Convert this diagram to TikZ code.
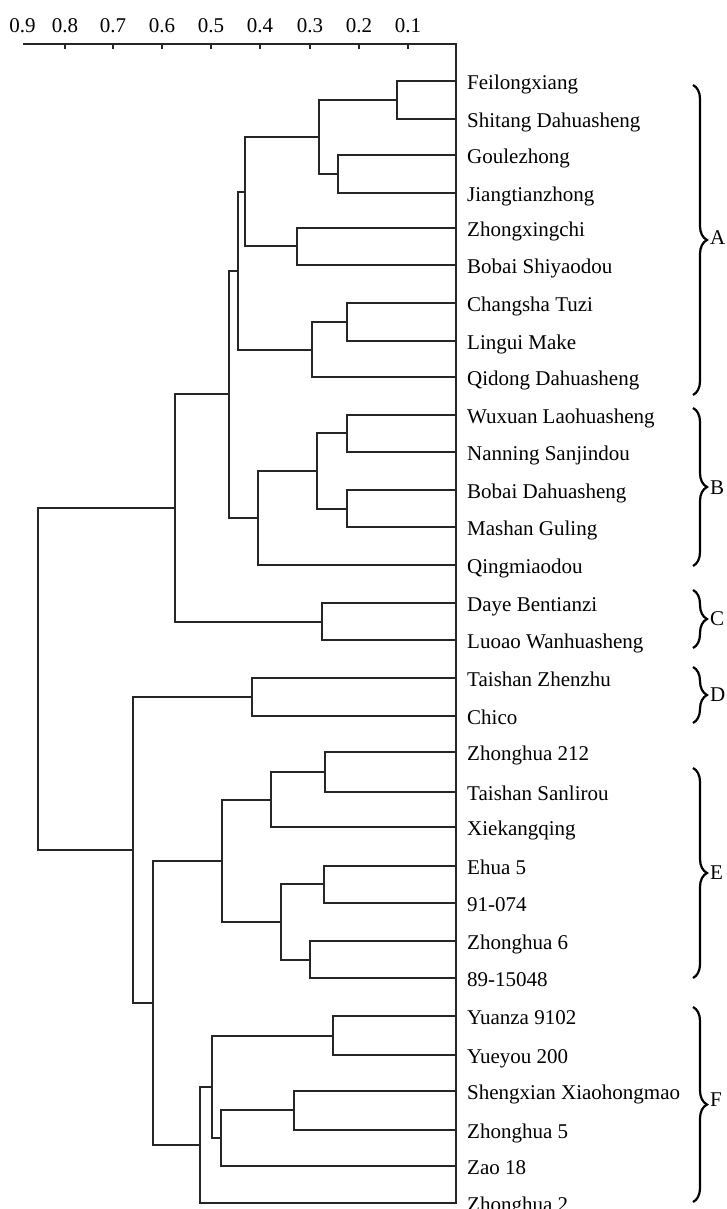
\documentclass[tikz,border=0pt]{standalone}
\usepackage{fontspec}
\setmainfont{Liberation Serif}
\usetikzlibrary{decorations.pathreplacing}
\newcommand\dmerge[3]{\draw[dline] (#2) -- (#2 -| #1) -- (#3 -| #1) -- (#3);}
\begin{document}
\begin{tikzpicture}[x=1pt,y=-1pt,
  dline/.style={line width=2pt,line join=miter,color=black!85},
  lbl/.style={font=\fontsize{21}{25}\selectfont,inner sep=0pt,anchor=base west},
  axlbl/.style={font=\fontsize{21}{25}\selectfont,inner sep=0pt,anchor=base},
  grp/.style={font=\fontsize{21}{25}\selectfont,inner sep=0pt,anchor=west},
  gbrace/.style={decorate,decoration={brace,amplitude=14pt},line width=2.2pt}]
\useasboundingbox (0,0) rectangle (727,1209);
% axis
\coordinate (axL) at (23,44);
\coordinate (axR) at (456,44);
\coordinate (axB) at (456,1204);
\draw[dline] (axL) -- (axR) -- (axB);
\foreach \k/\v/\x in {8/0.8/65,7/0.7/113,6/0.6/162,5/0.5/211,4/0.4/260,3/0.3/310,2/0.2/359,1/0.1/408}{
  \coordinate (tk\k) at (\x,44);
  \draw[dline] (tk\k) -- ++(0,5);
  \node[axlbl] (ax\k) at (\x,32.3) {\v};
}
\node[axlbl] (ax9) at (22.5,32.3) {0.9};
% leaves
\foreach \i/\y/\t in {0/81/Feilongxiang,1/119/Shitang Dahuasheng,2/155/Goulezhong,
 3/193/Jiangtianzhong,4/228/Zhongxingchi,5/265/Bobai Shiyaodou,6/303/Changsha Tuzi,
 7/341/Lingui Make,8/377/Qidong Dahuasheng,9/415/Wuxuan Laohuasheng,
 10/452/Nanning Sanjindou,11/490/Bobai Dahuasheng,12/527/Mashan Guling,
 13/565/Qingmiaodou,14/603/Daye Bentianzi,15/640/Luoao Wanhuasheng,
 16/678/Taishan Zhenzhu,17/716/Chico,18/752/Zhonghua 212,19/792/Taishan Sanlirou,
 20/827/Xiekangqing,21/866/Ehua 5,22/903/91-074,23/941/Zhonghua 6,
 24/978/89-15048,25/1016/Yuanza 9102,26/1055/Yueyou 200,27/1091/Shengxian Xiaohongmao,
 28/1130/Zhonghua 5,29/1166/Zao 18,30/1203/Zhonghua 2}{
  \coordinate (l\i) at (456,\y);
  \node[lbl] (t\i) at (467,\y+8.3) {\t};
}
% internal nodes
\coordinate (n1) at (397,100);
\coordinate (n2) at (338,174);
\coordinate (n3) at (319,137);
\coordinate (n4) at (297,246);
\coordinate (n5) at (245,192);
\coordinate (n6) at (347,322);
\coordinate (n7) at (312,350);
\coordinate (n8) at (238,271);
\coordinate (n9) at (347,433);
\coordinate (n10) at (347,509);
\coordinate (n11) at (317,471);
\coordinate (n12) at (258,518);
\coordinate (n13) at (229,394);
\coordinate (n14) at (322,622);
\coordinate (n15) at (175,508);
\coordinate (n16) at (252,697);
\coordinate (n17) at (325,772);
\coordinate (n18) at (271,800);
\coordinate (n19) at (324,884);
\coordinate (n20) at (310,960);
\coordinate (n21) at (281,922);
\coordinate (n22) at (222,861);
\coordinate (n23) at (333,1036);
\coordinate (n24) at (294,1110);
\coordinate (n25) at (221,1138);
\coordinate (n26) at (212,1087);
\coordinate (n27) at (200,1145);
\coordinate (n28) at (153,1003);
\coordinate (n29) at (133,850);
\coordinate (root) at (38,679);
\dmerge{n1}{l0}{l1}
\dmerge{n2}{l2}{l3}
\dmerge{n3}{n1}{n2}
\dmerge{n4}{l4}{l5}
\dmerge{n5}{n3}{n4}
\dmerge{n6}{l6}{l7}
\dmerge{n7}{n6}{l8}
\dmerge{n8}{n5}{n7}
\dmerge{n9}{l9}{l10}
\dmerge{n10}{l11}{l12}
\dmerge{n11}{n9}{n10}
\dmerge{n12}{n11}{l13}
\dmerge{n13}{n8}{n12}
\dmerge{n14}{l14}{l15}
\dmerge{n15}{n13}{n14}
\dmerge{n16}{l16}{l17}
\dmerge{n17}{l18}{l19}
\dmerge{n18}{n17}{l20}
\dmerge{n19}{l21}{l22}
\dmerge{n20}{l23}{l24}
\dmerge{n21}{n19}{n20}
\dmerge{n22}{n18}{n21}
\dmerge{n23}{l25}{l26}
\dmerge{n24}{l27}{l28}
\dmerge{n25}{n24}{l29}
\dmerge{n26}{n23}{n25}
\dmerge{n27}{n26}{l30}
\dmerge{n28}{n22}{n27}
\dmerge{n29}{n16}{n28}
\dmerge{root}{n15}{n29}
% groups
\foreach \g/\a/\b/\m in {A/85/395/238,B/408/566/488,C/590/648/619,D/667/723/695,E/768/978/873,F/1007/1202/1100}{
  \coordinate (bt\g) at (693,\a);
  \coordinate (bb\g) at (693,\b);
  \draw[gbrace] (bt\g) -- (bb\g);
  \node[grp] (g\g) at (710,\m) {\g};
}
\end{tikzpicture}
\end{document}
